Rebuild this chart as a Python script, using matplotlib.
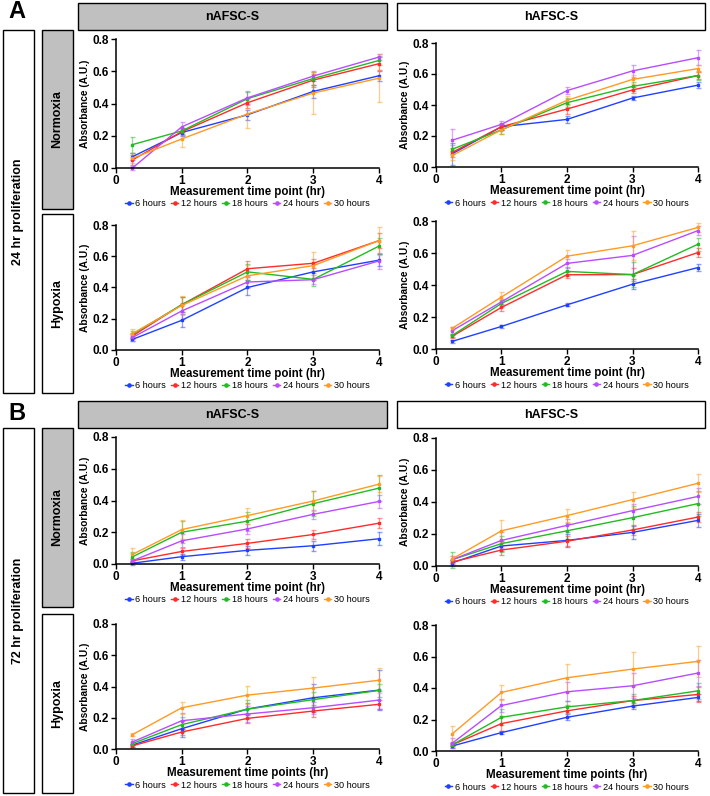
import matplotlib
matplotlib.use("Agg")
import matplotlib.pyplot as plt
from matplotlib.patches import Rectangle
from matplotlib.lines import Line2D

plt.rcParams['font.family'] = ['Liberation Sans', 'DejaVu Sans']

W, H = 710, 796

# ---------------- data ----------------
time_points = [0.25, 1, 2, 3, 4]
series_labels = ["6 hours", "12 hours", "18 hours", "24 hours", "30 hours"]
series_colors = ["#2040ff", "#ff2a2a", "#22bb22", "#b84cff", "#ff9a22"]

# A: 24 hr proliferation, normoxia, nAFSC-S
a_norm_n = [[0.07, 0.22, 0.33, 0.475, 0.572],
            [0.05, 0.225, 0.405, 0.545, 0.647],
            [0.145, 0.23, 0.43, 0.555, 0.667],
            [0.0, 0.255, 0.435, 0.57, 0.688],
            [0.06, 0.18, 0.335, 0.465, 0.557]]
a_norm_n_err = [[0.02, 0.02, 0.03, 0.04, 0.03],
                [0.03, 0.02, 0.03, 0.04, 0.04],
                [0.05, 0.02, 0.04, 0.04, 0.03],
                [0.01, 0.03, 0.04, 0.03, 0.02],
                [0.03, 0.05, 0.09, 0.13, 0.15]]
# A: normoxia, hAFSC-S
a_norm_h = [[0.086, 0.26, 0.307, 0.445, 0.528],
            [0.095, 0.26, 0.374, 0.497, 0.59],
            [0.115, 0.24, 0.415, 0.52, 0.59],
            [0.173, 0.275, 0.493, 0.62, 0.705],
            [0.075, 0.24, 0.43, 0.565, 0.635]]
a_norm_h_err = [[0.07, 0.02, 0.02, 0.01, 0.02],
                [0.03, 0.02, 0.03, 0.02, 0.02],
                [0.03, 0.03, 0.03, 0.03, 0.03],
                [0.07, 0.02, 0.02, 0.04, 0.05],
                [0.03, 0.03, 0.03, 0.03, 0.02]]
# A: hypoxia, nAFSC-S
a_hyp_n = [[0.068, 0.19, 0.40, 0.50, 0.575],
           [0.09, 0.29, 0.52, 0.555, 0.70],
           [0.10, 0.29, 0.50, 0.452, 0.665],
           [0.08, 0.25, 0.435, 0.45, 0.57],
           [0.105, 0.285, 0.475, 0.54, 0.70]]
a_hyp_n_err = [[0.01, 0.04, 0.05, 0.05, 0.04],
               [0.02, 0.05, 0.05, 0.03, 0.05],
               [0.02, 0.05, 0.05, 0.04, 0.05],
               [0.02, 0.05, 0.04, 0.03, 0.05],
               [0.03, 0.06, 0.07, 0.09, 0.09]]
# A: hypoxia, hAFSC-S
a_hyp_h = [[0.048, 0.141, 0.276, 0.405, 0.509],
           [0.08, 0.26, 0.464, 0.465, 0.603],
           [0.085, 0.285, 0.485, 0.465, 0.655],
           [0.115, 0.295, 0.535, 0.585, 0.74],
           [0.13, 0.325, 0.58, 0.645, 0.76]]
a_hyp_h_err = [[0.01, 0.01, 0.01, 0.03, 0.02],
               [0.01, 0.02, 0.02, 0.04, 0.03],
               [0.01, 0.02, 0.03, 0.08, 0.04],
               [0.02, 0.02, 0.03, 0.12, 0.03],
               [0.01, 0.03, 0.04, 0.09, 0.03]]
# B: 72 hr proliferation, normoxia, nAFSC-S
b_norm_n = [[0.005, 0.046, 0.086, 0.115, 0.159],
            [0.02, 0.079, 0.13, 0.186, 0.257],
            [0.045, 0.20, 0.27, 0.38, 0.478],
            [0.02, 0.146, 0.221, 0.313, 0.394],
            [0.06, 0.217, 0.305, 0.397, 0.503]]
b_norm_n_err = [[0.01, 0.02, 0.03, 0.03, 0.04],
                [0.01, 0.02, 0.03, 0.03, 0.03],
                [0.03, 0.07, 0.06, 0.08, 0.08],
                [0.01, 0.04, 0.03, 0.03, 0.04],
                [0.04, 0.06, 0.05, 0.06, 0.05]]
# B: normoxia, hAFSC-S
b_norm_h = [[0.02, 0.125, 0.16, 0.21, 0.285],
            [0.025, 0.10, 0.155, 0.225, 0.306],
            [0.04, 0.14, 0.22, 0.302, 0.39],
            [0.04, 0.16, 0.254, 0.346, 0.435],
            [0.045, 0.22, 0.315, 0.415, 0.517]]
b_norm_h_err = [[0.02, 0.03, 0.04, 0.04, 0.04],
                [0.01, 0.03, 0.03, 0.03, 0.03],
                [0.05, 0.05, 0.05, 0.07, 0.08],
                [0.02, 0.05, 0.04, 0.04, 0.05],
                [0.02, 0.07, 0.04, 0.05, 0.055]]
# B: hypoxia, nAFSC-S
b_hyp_n = [[0.025, 0.13, 0.256, 0.328, 0.377],
           [0.02, 0.109, 0.196, 0.243, 0.286],
           [0.035, 0.156, 0.255, 0.316, 0.375],
           [0.045, 0.181, 0.224, 0.264, 0.313],
           [0.092, 0.264, 0.345, 0.39, 0.44]]
b_hyp_n_err = [[0.01, 0.05, 0.04, 0.09, 0.13],
               [0.01, 0.02, 0.03, 0.04, 0.03],
               [0.01, 0.05, 0.06, 0.05, 0.04],
               [0.02, 0.05, 0.05, 0.04, 0.06],
               [0.01, 0.04, 0.06, 0.07, 0.08]]
# B: hypoxia, hAFSC-S
b_hyp_h = [[0.032, 0.117, 0.214, 0.285, 0.34],
           [0.04, 0.174, 0.255, 0.32, 0.359],
           [0.04, 0.214, 0.28, 0.32, 0.382],
           [0.05, 0.289, 0.376, 0.414, 0.495],
           [0.11, 0.372, 0.465, 0.52, 0.569]]
b_hyp_h_err = [[0.01, 0.01, 0.02, 0.02, 0.02],
               [0.01, 0.05, 0.04, 0.03, 0.05],
               [0.01, 0.05, 0.04, 0.04, 0.05],
               [0.03, 0.04, 0.06, 0.08, 0.08],
               [0.05, 0.05, 0.09, 0.11, 0.10]]

y_ticks = [0.0, 0.2, 0.4, 0.6, 0.8]
x_ticks = [0, 1, 2, 3, 4]

fig = plt.figure(figsize=(W / 100, H / 100), dpi=100)


def rect(x0, y0, x1, y1):
    return [x0 / W, 1 - y1 / H, (x1 - x0) / W, (y1 - y0) / H]


def box(x0, y0, x1, y1, fill, text, rot=0, size=9):
    fig.patches.append(Rectangle((x0 / W, 1 - y1 / H), (x1 - x0) / W, (y1 - y0) / H,
                                 transform=fig.transFigure, facecolor=fill,
                                 edgecolor="black", linewidth=1.0))
    fig.text((x0 + x1) / 2 / W, 1 - (y0 + y1) / 2 / H, text, rotation=rot,
             ha="center", va="center", fontsize=size, fontweight="bold")


def panel(pos, data, err, xlabel, ylabel=True):
    x0, y0, x1, y1 = pos
    ax = fig.add_axes(rect(x0, y0, x1, y1))
    handles = []
    for vals, e, c, lab in zip(data, err, series_colors, series_labels):
        eb = ax.errorbar(time_points, vals, yerr=e, color=c, lw=1.0, marker="s",
                         ms=2.0, capsize=1.8, elinewidth=0.9, ecolor=c,
                         clip_on=False)
        for art in eb[1] + eb[2]:
            art.set_alpha(0.5)
        handles.append(Line2D([0], [0], color=c, lw=1.0, marker="o", ms=2.3, label=lab))
    ax.set_xlim(0, 4)
    ax.set_ylim(0, 0.8)
    ax.set_xticks(x_ticks)
    ax.set_yticks(y_ticks)
    ax.set_yticklabels([f"{v:.1f}" for v in y_ticks])
    for s in ["top", "right"]:
        ax.spines[s].set_visible(False)
    for s in ["left", "bottom"]:
        ax.spines[s].set_linewidth(1.1)
    ax.tick_params(direction="out", length=3.5, width=1.0, labelsize=8.5, pad=1.5)
    for t in ax.get_xticklabels() + ax.get_yticklabels():
        t.set_fontweight("bold")
    hpx = y1 - y0
    wpx = x1 - x0
    ax.set_xlabel(xlabel, fontsize=8.3, fontweight="bold")
    ax.xaxis.set_label_coords(0.5, -24 / hpx)
    ax.xaxis.label.set_va("center")
    if ylabel:
        ax.set_ylabel("Absorbance (A.U.)", fontsize=7.3, fontweight="bold")
        ax.yaxis.set_label_coords(-31 / wpx, 0.5)
        ax.yaxis.label.set_va("center")
    ax.legend(handles=handles, loc="center", ncol=5, frameon=False,
              bbox_to_anchor=(0.5, -36 / hpx), fontsize=6.6,
              handlelength=0.8, handletextpad=0.3, columnspacing=0.55,
              borderpad=0, borderaxespad=0)
    return ax


# panel letters
fig.text(8 / W, 1 - 12 / H, "A", fontsize=17, fontweight="bold", va="center", ha="left")
fig.text(8 / W, 1 - 413 / H, "B", fontsize=17, fontweight="bold", va="center", ha="left")

# header boxes
box(78, 3, 387, 30, "#c0c0c0", "nAFSC-S")
box(397, 3, 705, 30, "white", "hAFSC-S")
box(78, 401, 387, 428, "#c0c0c0", "nAFSC-S")
box(397, 401, 705, 428, "white", "hAFSC-S")

# side boxes
box(3, 30, 34, 393, "white", "24 hr proliferation", rot=90)
box(42, 30, 73, 209, "#c0c0c0", "Normoxia", rot=90)
box(42, 214, 73, 393, "white", "Hypoxia", rot=90)
box(3, 428, 34, 793, "white", "72 hr proliferation", rot=90)
box(42, 428, 73, 607, "#c0c0c0", "Normoxia", rot=90)
box(42, 614, 73, 793, "white", "Hypoxia", rot=90)

xl1 = "Measurement time point (hr)"
xl2 = "Measurement time points (hr)"
panel((116, 39, 379, 168), a_norm_n, a_norm_n_err, xl1)
panel((436, 43, 698, 167), a_norm_h, a_norm_h_err, xl1)
panel((116, 225, 379, 350), a_hyp_n, a_hyp_n_err, xl1)
panel((436, 221, 698, 349), a_hyp_h, a_hyp_h_err, xl1)
panel((116, 437, 379, 564), b_norm_n, b_norm_n_err, xl1)
panel((436, 438, 698, 566), b_norm_h, b_norm_h_err, xl1)
panel((116, 624, 379, 749), b_hyp_n, b_hyp_n_err, xl2)
panel((436, 625, 698, 751), b_hyp_h, b_hyp_h_err, xl2, ylabel=False)

fig.savefig("out.png", dpi=100)
